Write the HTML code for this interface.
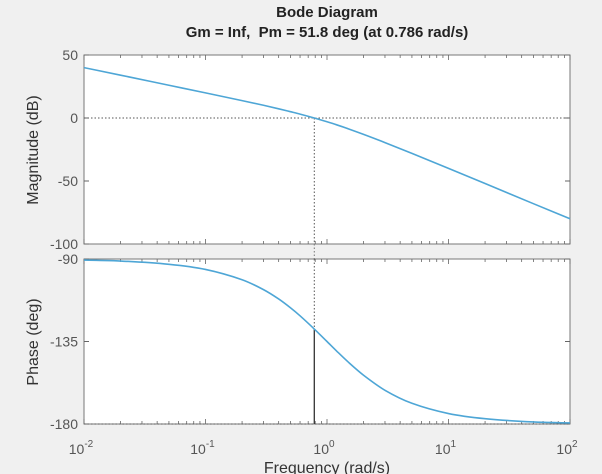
<!DOCTYPE html>
<html><head><meta charset="utf-8"><style>
body{margin:0;background:#f0f0f0;width:602px;height:474px;overflow:hidden;font-family:"Liberation Sans",sans-serif}
</style></head><body>
<svg id="chart" width="602" height="474" xmlns="http://www.w3.org/2000/svg" font-family="Liberation Sans, sans-serif" style="display:block">
<rect width="602" height="474" fill="#f0f0f0"/>
<text x="327" y="17" text-anchor="middle" font-size="15" font-weight="bold" fill="#222">Bode Diagram</text>
<text x="327" y="37" text-anchor="middle" font-size="15" font-weight="bold" fill="#222" xml:space="preserve">Gm = Inf,  Pm = 51.8 deg (at 0.786 rad/s)</text>
<g id="g"></g>
</svg>
<script>
const freqs=[0.01,0.02,0.05,0.1,0.2,0.3,0.4,0.5,0.6,0.786,1,1.2,1.5,2,3,5,10,20,50,100];
const magDb=[40,34,26,19.96,13.8,10.1,7.3,5.0,3.1,0,-3.0,-5.4,-8.6,-13.0,-19.5,-28.1,-40.0,-52.0,-68.0,-80.0];
const phaseDeg=[-90.6,-91.1,-92.9,-95.7,-101.3,-106.7,-111.8,-116.6,-121.0,-128.2,-135,-140.2,-146.3,-153.4,-161.6,-168.7,-174.3,-177.1,-178.9,-179.4];
const magTicks=[50,0,-50,-100];
const phaseTicks=[-90,-135,-180];
const xDecades=[-2,-1,0,1,2];
const pmFreq=0.786, pmPhase=-128.2;

const L=84,R=570,mT=55,mB=244,pT=259,pB=424;
const NS="http://www.w3.org/2000/svg";
const g=document.getElementById('g');
function x(f){return L+(Math.log10(f)+2)/4*(R-L);}
function ym(v){return mT+(50-v)/150*(mB-mT);}
function yp(v){return pT+(-90-v)/90*(pB-pT);}
function el(t,a,p){const e=document.createElementNS(NS,t);for(const k in a)e.setAttribute(k,a[k]);(p||g).appendChild(e);return e;}

const m=el('rect',{x:L,y:mT,width:R-L,height:mB-mT,fill:'#fff',stroke:'#777','stroke-width':1});


const p=el('rect',{x:L,y:pT,width:R-L,height:pB-pT,fill:'#fff',stroke:'#777','stroke-width':1});



for(const d of xDecades){
  for(let k=1;k<10;k++){
    if(d===2&&k>1)break;
    const xx=x(k*Math.pow(10,d)), len=k===1?5:3;
    for(const [a,b] of [[mT,1],[mB,-1],[pT,1],[pB,-1]])
      el('line',{x1:xx,x2:xx,y1:a,y2:a+b*len,stroke:'#666','stroke-width':0.8});
  }
  const t=el('text',{x:x(Math.pow(10,d))-3,y:454,'text-anchor':'middle','font-size':14,fill:'#555'});
  
  
  t.textContent='10';
  const s=el('tspan',{dy:-7,'font-size':10},t);s.textContent=String(d);
}
for(const v of magTicks){
  el('line',{x1:L,x2:L+5,y1:ym(v),y2:ym(v),stroke:'#666'});el('line',{x1:R,x2:R-5,y1:ym(v),y2:ym(v),stroke:'#666'});
  const t=el('text',{x:L-6,y:ym(v)+5,'text-anchor':'end','font-size':14,fill:'#555'});
  
  
  t.textContent=v;
}
for(const v of phaseTicks){
  el('line',{x1:L,x2:L+5,y1:yp(v),y2:yp(v),stroke:'#666'});el('line',{x1:R,x2:R-5,y1:yp(v),y2:yp(v),stroke:'#666'});
  const t=el('text',{x:L-6,y:yp(v)+5,'text-anchor':'end','font-size':14,fill:'#555'});
  
  
  t.textContent=v;
}
el('line',{x1:L,x2:R,y1:ym(0),y2:ym(0),stroke:'#555','stroke-dasharray':'1.5,2'});
el('line',{x1:L,x2:R,y1:yp(-180),y2:yp(-180),stroke:'#555','stroke-dasharray':'1.5,2'});
const xc=x(pmFreq);
el('line',{x1:xc,x2:xc,y1:ym(0),y2:mB,stroke:'#555','stroke-dasharray':'1.5,2'});
el('line',{x1:xc,x2:xc,y1:mB,y2:pT,stroke:'#777','stroke-dasharray':'1.5,2'});
el('line',{x1:xc,x2:xc,y1:pT,y2:yp(pmPhase),stroke:'#555','stroke-dasharray':'1.5,2'});
const pm=el('line',{x1:xc,x2:xc,y1:yp(pmPhase),y2:pB,stroke:'#333','stroke-width':1.3});



function curve(ys,fy){
  const X=freqs.map(x),Y=ys.map(fy);let d='M'+X[0]+','+Y[0];
  for(let i=0;i<X.length-1;i++){
    const i0=Math.max(0,i-1),i3=Math.min(X.length-1,i+2);
    const t1=(Y[i+1]-Y[i0])/(X[i+1]-X[i0]),t2=(Y[i3]-Y[i])/(X[i3]-X[i]);
    const h=(X[i+1]-X[i])/3;
    d+=' C'+(X[i]+h)+','+(Y[i]+t1*h)+' '+(X[i+1]-h)+','+(Y[i+1]-t2*h)+' '+X[i+1]+','+Y[i+1];
  }
  return d;
}
const mc=el('path',{d:curve(magDb,ym),fill:'none',stroke:'#4ea6d6','stroke-width':1.6});


const pc=el('path',{d:curve(phaseDeg,yp),fill:'none',stroke:'#4ea6d6','stroke-width':1.6});



let t=el('text',{x:0,y:0,transform:'translate(38,150) rotate(-90)','text-anchor':'middle','font-size':16,fill:'#333'});


t.textContent='Magnitude (dB)';
t=el('text',{x:0,y:0,transform:'translate(38,342) rotate(-90)','text-anchor':'middle','font-size':16,fill:'#333'});


t.textContent='Phase (deg)';
t=el('text',{x:327,y:473,'text-anchor':'middle','font-size':16,fill:'#333','xml:space':'preserve'});


t.textContent='Frequency  (rad/s)';
</script>
</body></html>
